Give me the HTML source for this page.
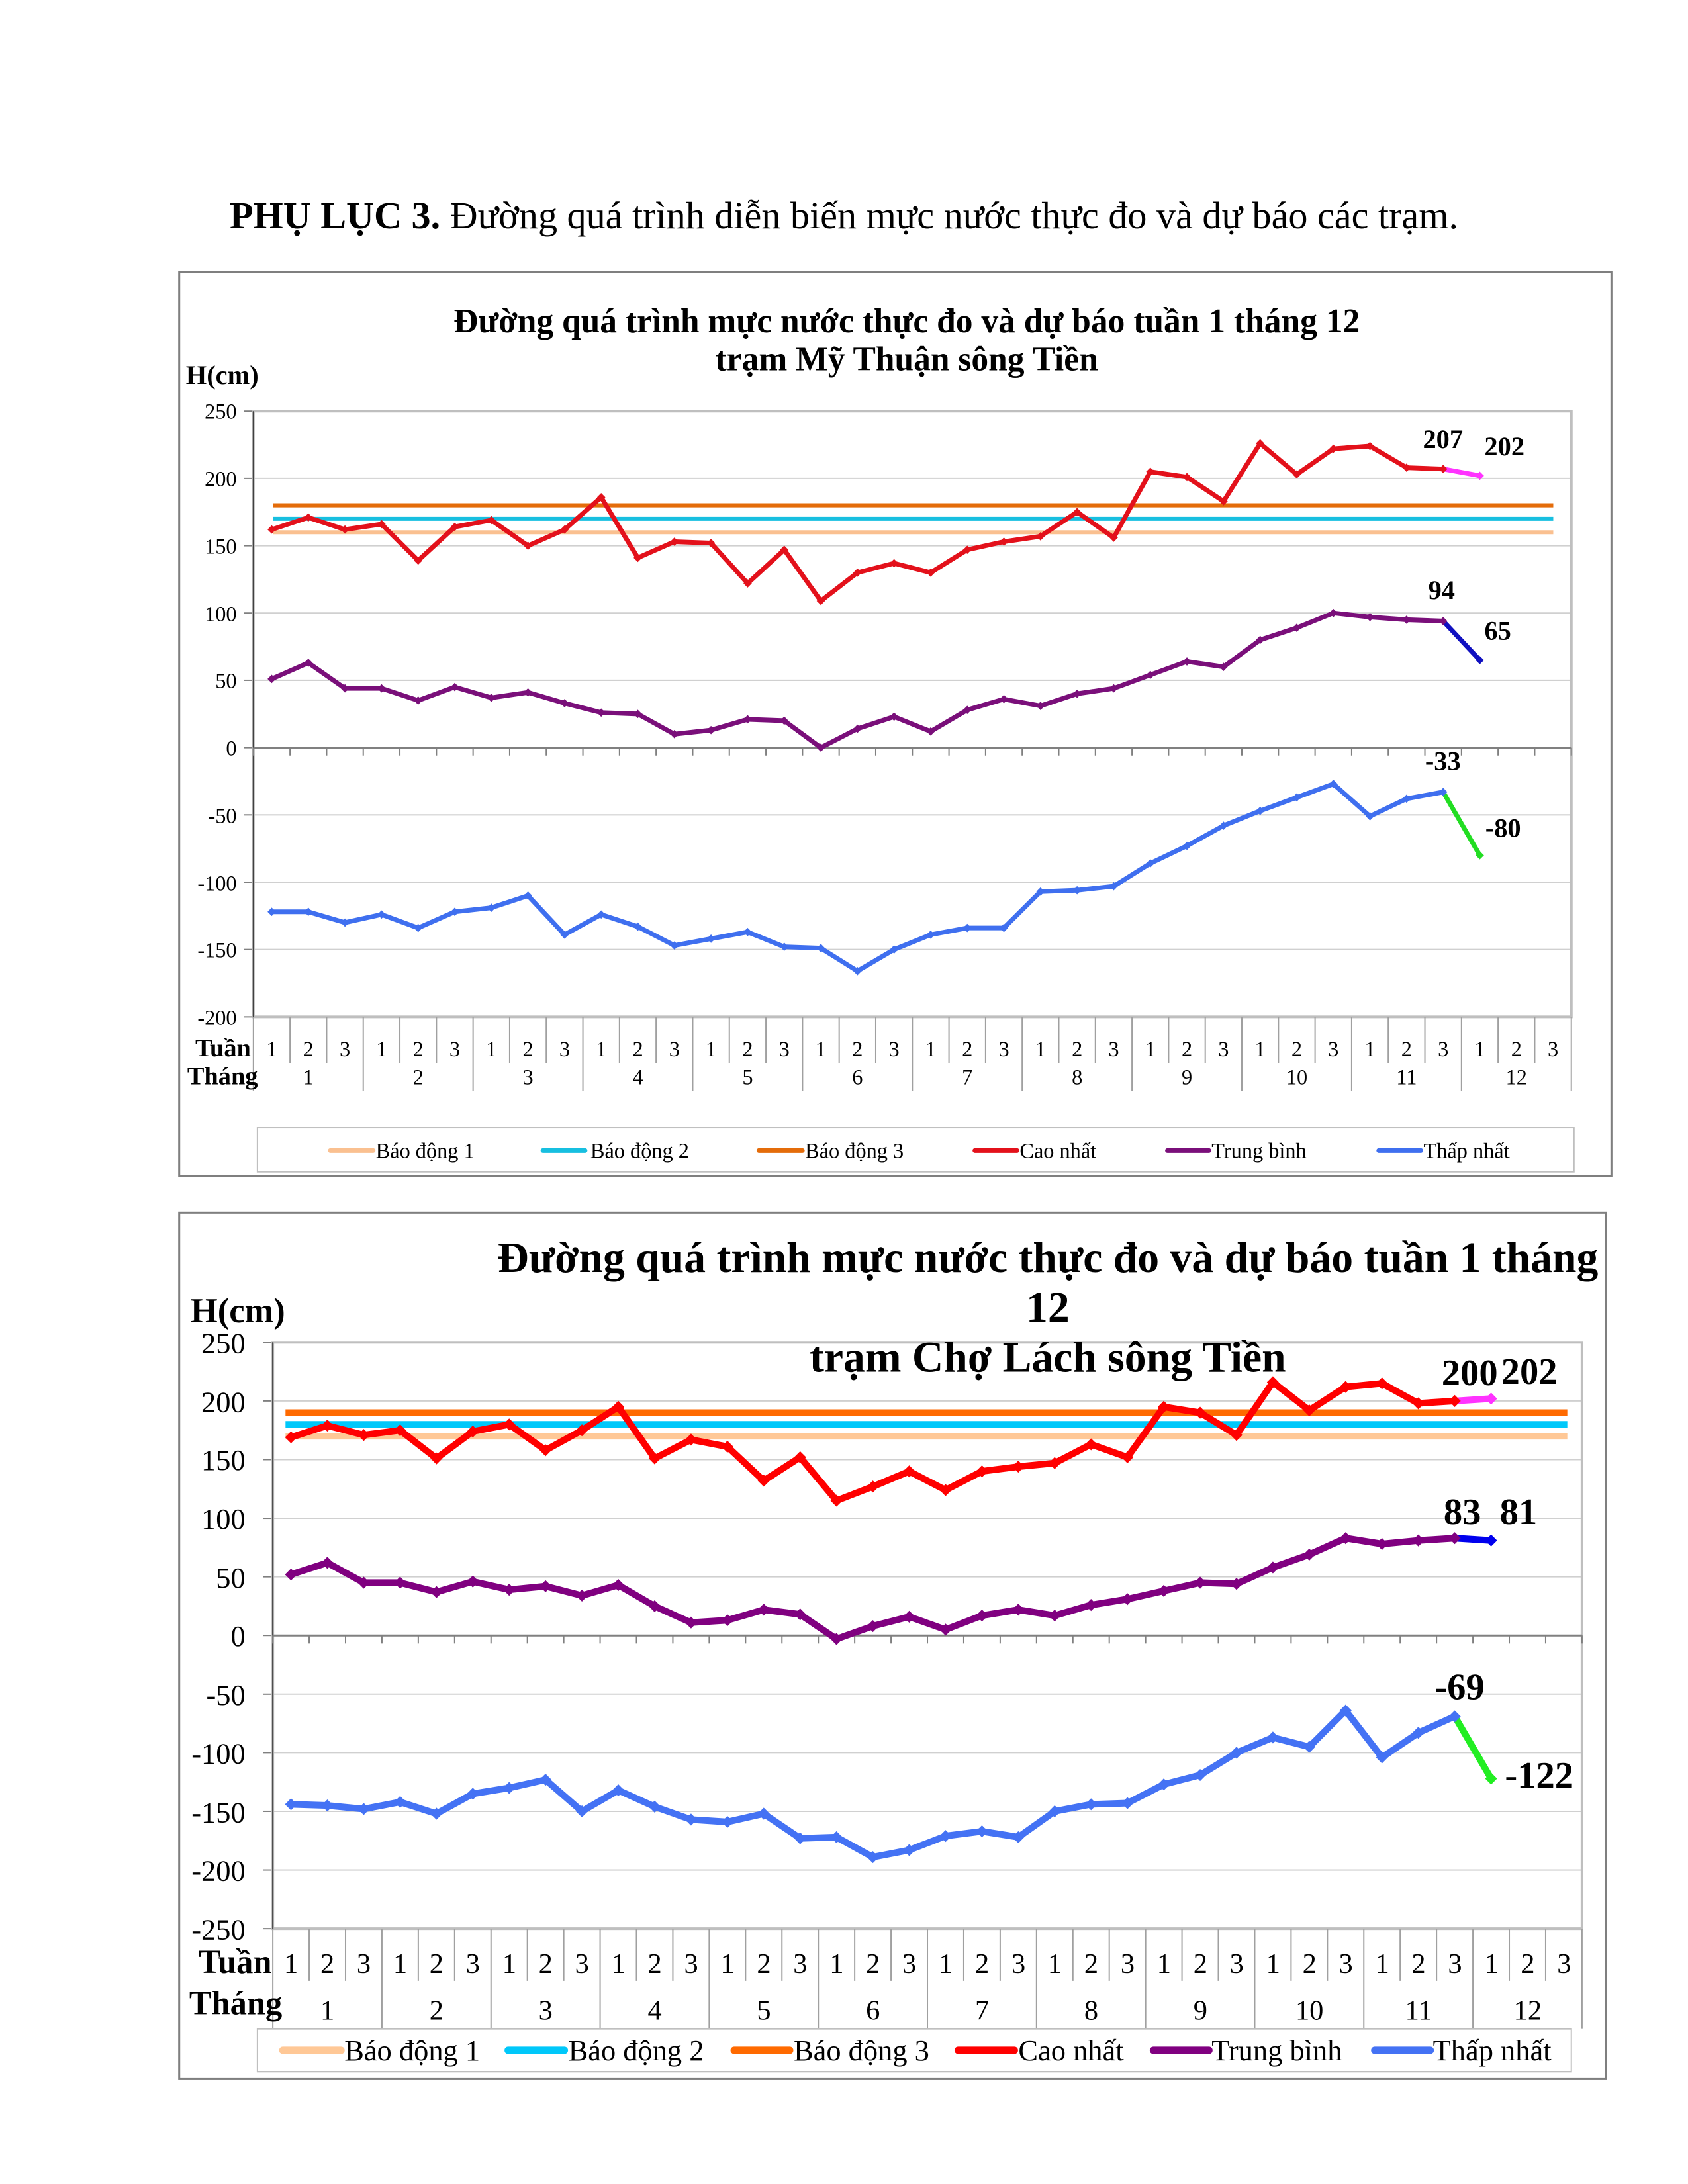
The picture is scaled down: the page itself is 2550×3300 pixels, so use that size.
<!DOCTYPE html>
<html><head><meta charset="utf-8"><style>
html,body{margin:0;padding:0;background:#fff}
svg{display:block}
text{font-family:"Liberation Serif",serif;fill:#000}
.b{font-weight:bold}
</style></head><body>
<svg id="s" width="2550" height="3300" viewBox="0 0 2550 3300" xmlns="http://www.w3.org/2000/svg">
<rect width="2550" height="3300" fill="#fff"/>
<text x="347" y="345" font-size="58" textLength="1856" lengthAdjust="spacingAndGlyphs"><tspan class="b">PHỤ LỤC 3.</tspan> Đường quá trình diễn biến mực nước thực đo và dự báo các trạm.</text>
<g transform="scale(1.0101)">
<!-- chart 1 -->
<rect x="268" y="407" width="2142" height="1352" fill="#fff" stroke="#7f7f7f" stroke-width="3"/>
<g id="g1"></g>
<text class="b" x="1356" y="497" font-size="51" text-anchor="middle">Đường quá trình mực nước thực đo và dự báo tuần 1 tháng 12</text>
<text class="b" x="1356" y="554" font-size="51" text-anchor="middle">trạm Mỹ Thuận sông Tiền</text>
<text class="b" x="278" y="574" font-size="40">H(cm)</text>
<g font-size="32" text-anchor="end">
<text x="354" y="626">250</text><text x="354" y="727">200</text><text x="354" y="828">150</text><text x="354" y="929">100</text><text x="354" y="1029">50</text><text x="354" y="1130">0</text><text x="354" y="1231">-50</text><text x="354" y="1332">-100</text><text x="354" y="1432">-150</text><text x="354" y="1533">-200</text>
</g>
<text class="b" x="292" y="1580" font-size="38">Tuần</text>
<text class="b" x="280" y="1622" font-size="38">Tháng</text>
<text font-size="32" text-anchor="middle" y="1580" x="406.4 461.1 515.9 570.6 625.4 680.1 734.9 789.6 844.4 899.1 953.9 1008.6 1063.4 1118.1 1172.9 1227.6 1282.4 1337.1 1391.9 1446.6 1501.4 1556.1 1610.9 1665.6 1720.4 1775.1 1829.9 1884.6 1939.4 1994.1 2048.9 2103.6 2158.4 2213.1 2267.9 2322.6">123123123123123123123123123123123123</text>
<g font-size="32" text-anchor="middle">
<text x="461.1" y="1622">1</text><text x="625.4" y="1622">2</text><text x="789.6" y="1622">3</text><text x="953.9" y="1622">4</text><text x="1118.1" y="1622">5</text><text x="1282.4" y="1622">6</text><text x="1446.6" y="1622">7</text><text x="1610.9" y="1622">8</text><text x="1775.1" y="1622">9</text><text x="1939.4" y="1622">10</text><text x="2103.6" y="1622">11</text><text x="2267.9" y="1622">12</text>
</g>
<g class="b" font-size="40" text-anchor="middle">
<text x="2158" y="670">207</text><text x="2250" y="681">202</text><text x="2156" y="896">94</text><text x="2240" y="957">65</text><text x="2158" y="1152">-33</text><text x="2248" y="1252">-80</text>
</g>
<rect x="385" y="1687" width="1969" height="66" fill="#fff" stroke="#bfbfbf" stroke-width="2"/>
<g stroke-width="7" stroke-linecap="round">
<line x1="494" y1="1721" x2="558" y2="1721" stroke="#FAC090"/>
<line x1="812" y1="1721" x2="875" y2="1721" stroke="#17BFE0"/>
<line x1="1135" y1="1721" x2="1200" y2="1721" stroke="#E46C0A"/>
<line x1="1458" y1="1721" x2="1521" y2="1721" stroke="#E3111B"/>
<line x1="1746" y1="1721" x2="1808" y2="1721" stroke="#7A0F7A"/>
<line x1="2062" y1="1721" x2="2125" y2="1721" stroke="#3F6FEF"/>
</g>
<g font-size="32">
<text x="562" y="1732">Báo động 1</text><text x="883" y="1732">Báo động 2</text><text x="1204" y="1732">Báo động 3</text><text x="1525" y="1732">Cao nhất</text><text x="1812" y="1732">Trung bình</text><text x="2129" y="1732">Thấp nhất</text>
</g>

<!-- chart 2 -->
<rect x="268" y="1814" width="2134" height="1296" fill="#fff" stroke="#7f7f7f" stroke-width="3"/>
<g id="g2"></g>
<text class="b" x="1567" y="1903" font-size="65" text-anchor="middle">Đường quá trình mực nước thực đo và dự báo tuần 1 tháng</text>
<text class="b" x="1567" y="1977" font-size="65" text-anchor="middle">12</text>
<text class="b" x="1567" y="2052" font-size="65" text-anchor="middle">trạm Chợ Lách sông Tiền</text>
<text class="b" x="285" y="1978" font-size="52">H(cm)</text>
<g font-size="44" text-anchor="end">
<text x="367" y="2024">250</text><text x="367" y="2112">200</text><text x="367" y="2199">150</text><text x="367" y="2287">100</text><text x="367" y="2375">50</text><text x="367" y="2462">0</text><text x="367" y="2550">-50</text><text x="367" y="2638">-100</text><text x="367" y="2726">-150</text><text x="367" y="2813">-200</text><text x="367" y="2901">-250</text>
</g>
<text class="b" x="297" y="2951" font-size="50">Tuần</text>
<text class="b" x="283" y="3013" font-size="50">Tháng</text>
<text font-size="42" text-anchor="middle" y="2951" x="435.2 489.6 544.0 598.4 652.8 707.2 761.6 816.0 870.4 924.8 979.2 1033.6 1088.0 1142.4 1196.8 1251.2 1305.6 1360.0 1414.4 1468.8 1523.2 1577.6 1632.0 1686.4 1740.8 1795.2 1849.6 1904.0 1958.4 2012.8 2067.2 2121.6 2176.0 2230.4 2284.8 2339.2">123123123123123123123123123123123123</text>
<g font-size="42" text-anchor="middle">
<text x="489.6" y="3021">1</text><text x="652.8" y="3021">2</text><text x="816.0" y="3021">3</text><text x="979.2" y="3021">4</text><text x="1142.4" y="3021">5</text><text x="1305.6" y="3021">6</text><text x="1468.8" y="3021">7</text><text x="1632.0" y="3021">8</text><text x="1795.2" y="3021">9</text><text x="1958.4" y="3021">10</text><text x="2121.6" y="3021">11</text><text x="2284.8" y="3021">12</text>
</g>
<g class="b" font-size="56" text-anchor="middle">
<text x="2198" y="2072">200</text><text x="2287" y="2070">202</text><text x="2187" y="2280">83</text><text x="2271" y="2280">81</text><text x="2183" y="2542">-69</text><text x="2302" y="2674">-122</text>
</g>
<rect x="385" y="3035" width="1965" height="64" fill="#fff" stroke="#bfbfbf" stroke-width="2"/>
<g stroke-width="11" stroke-linecap="round">
<line x1="423" y1="3067" x2="510" y2="3067" stroke="#FFC896"/>
<line x1="760" y1="3067" x2="844" y2="3067" stroke="#00C8FA"/>
<line x1="1098" y1="3067" x2="1181" y2="3067" stroke="#FF6A00"/>
<line x1="1433" y1="3067" x2="1517" y2="3067" stroke="#FF0000"/>
<line x1="1725" y1="3067" x2="1808" y2="3067" stroke="#800080"/>
<line x1="2056" y1="3067" x2="2139" y2="3067" stroke="#4472F4"/>
</g>
<g font-size="44">
<text x="515" y="3082">Báo động 1</text><text x="850" y="3082">Báo động 2</text><text x="1187" y="3082">Báo động 3</text><text x="1523" y="3082">Cao nhất</text><text x="1812" y="3082">Trung bình</text><text x="2143" y="3082">Thấp nhất</text>
</g>
</g>
</svg>
<script>
(function(){
var NS="http://www.w3.org/2000/svg";
function el(g,n,a){var e=document.createElementNS(NS,n);for(var k in a)e.setAttribute(k,a[k]);g.appendChild(e);return e;}
function chart(id,c){
 var g=document.getElementById(id);
 var w=(c.x1-c.x0)/36;
 function Y(v){return c.y0+(c.vmax-v)*(c.yb-c.y0)/(c.vmax-c.vmin);}
 function X(i){return c.x0+w*(i+0.5);}
 for(var v=c.vmax;v>=c.vmin;v-=50){el(g,"line",{x1:c.x0,x2:c.x1,y1:Y(v),y2:Y(v),stroke:"#d0d0d0","stroke-width":2});
  el(g,"line",{x1:c.x0-14,x2:c.x0,y1:Y(v),y2:Y(v),stroke:"#808080","stroke-width":2});}
 el(g,"rect",{x:c.x0,y:c.y0,width:c.x1-c.x0,height:c.yb-c.y0,fill:"none",stroke:"#bfbfbf","stroke-width":c.sw>6?4:2});
 el(g,"line",{x1:c.x0,x2:c.x0,y1:c.y0,y2:c.yb,stroke:"#404040","stroke-width":2});
 el(g,"line",{x1:c.x0,x2:c.x1,y1:Y(0),y2:Y(0),stroke:"#808080","stroke-width":3});
 for(var i=0;i<=36;i++){var x=c.x0+w*i;
  el(g,"line",{x1:x,x2:x,y1:c.yb,y2:(i%3==0)?c.mb:c.wb,stroke:"#a0a0a0","stroke-width":2});
  el(g,"line",{x1:x,x2:x,y1:Y(0),y2:Y(0)+12,stroke:"#808080","stroke-width":2});}
 c.al.forEach(function(a){el(g,"line",{x1:c.ax0,x2:c.ax1,y1:Y(a[0]),y2:Y(a[0]),stroke:a[1],"stroke-width":c.aw});});
 c.ser.forEach(function(s){
  var d=s[0],p=[];for(var i=0;i<33;i++)p.push(X(i)+","+Y(d[i]));
  el(g,"polyline",{points:p.join(" "),fill:"none",stroke:s[1],"stroke-width":c.sw,"stroke-linejoin":"round"});
  el(g,"line",{x1:X(32),y1:Y(d[32]),x2:X(33),y2:Y(d[33]),stroke:s[2],"stroke-width":c.sw});
  for(var i=0;i<34;i++){var x=X(i),y=Y(d[i]),r=c.sw*0.9;
   el(g,"polygon",{points:(x-r)+","+y+" "+x+","+(y-r)+" "+(x+r)+","+y+" "+x+","+(y+r),fill:i<33?s[1]:s[2]});}
 });
}
chart("g1",{x0:379,x1:2350,y0:615,yb:1521,vmax:250,vmin:-200,wb:1590,mb:1632,sw:7,aw:6,ax0:408,ax1:2323,
 al:[[160,"#FAC090"],[170,"#17BFE0"],[180,"#E46C0A"]],
 ser:[[[162,171,162,166,139,164,169,150,162,186,141,153,152,122,147,109,130,137,130,147,153,157,175,156,205,201,183,226,203,222,224,208,207,202],"#E3111B","#FF33FF"],
 [[51,63,44,44,35,45,37,41,33,26,25,10,13,21,20,0,14,23,12,28,36,31,40,44,54,64,60,80,89,100,97,95,94,65],"#7A0F7A","#1010C0"],
 [[-122,-122,-130,-124,-134,-122,-119,-110,-139,-124,-133,-147,-142,-137,-148,-149,-166,-150,-139,-134,-134,-107,-106,-103,-86,-73,-58,-47,-37,-27,-51,-38,-33,-80],"#3F6FEF","#22DD22"]]});
chart("g2",{x0:408,x1:2366,y0:2008,yb:2885,vmax:250,vmin:-250,wb:2963,mb:3035,sw:10,aw:10,ax0:427,ax1:2344,
 al:[[170,"#FFC896"],[180,"#00C8FA"],[190,"#FF6A00"]],
 ser:[[[169,179,171,175,151,174,180,158,175,195,151,167,161,132,152,115,127,140,124,140,144,147,163,152,195,190,171,216,192,212,215,198,200,202],"#FF0000","#FF33FF"],
 [[52,62,45,45,37,46,39,42,34,43,25,11,13,22,18,-3,8,16,5,17,22,17,26,31,38,45,44,58,69,83,78,81,83,81],"#800080","#0000EE"],
 [[-144,-145,-148,-142,-152,-135,-130,-123,-150,-132,-146,-157,-159,-152,-173,-172,-189,-183,-171,-167,-172,-150,-144,-143,-127,-119,-100,-87,-95,-64,-104,-83,-69,-122],"#4472F4","#22EE22"]]});
})();
</script>
</body></html>
